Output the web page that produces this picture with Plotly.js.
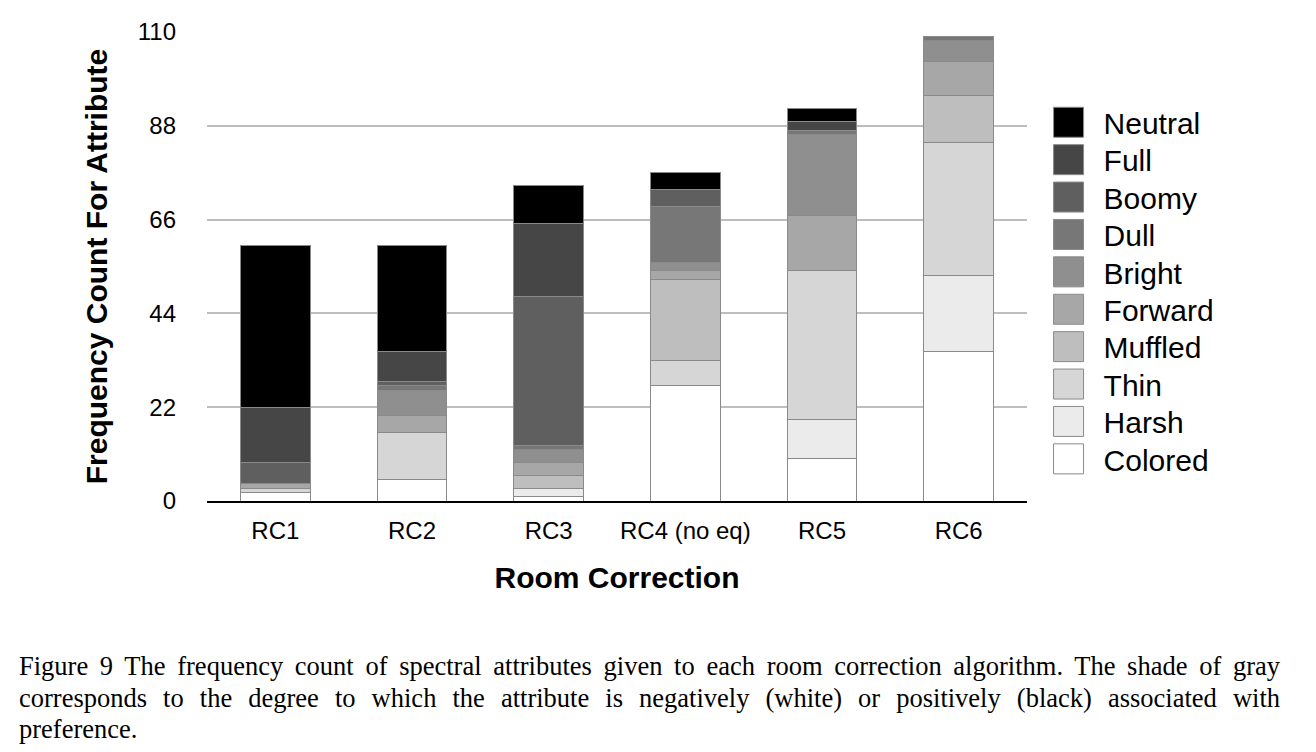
<!DOCTYPE html>
<html>
<head>
<meta charset="utf-8">
<script src="https://cdn.plot.ly/plotly-3.0.1.min.js"></script>
<style>
  html, body { margin: 0; padding: 0; background: #fff; }
  #wrap { position: relative; width: 1316px; height: 752px; overflow: hidden; }
  #chart { position: absolute; left: 0; top: 0; width: 1316px; height: 752px; }
  #caption {
    position: absolute; left: 19px; top: 651px; width: 1261px;
    font-family: "Liberation Serif", "Times New Roman", serif;
    font-size: 26.5px; line-height: 31.5px; color: #000;
  }
  #caption .j { display: block; text-align: justify; text-align-last: justify; white-space: nowrap; }
  #caption .l { display: block; text-align: left; }
</style>
</head>
<body>
<div id="wrap">
  <div id="chart"></div>
  <div id="caption"><span class="j">Figure 9 The frequency count of spectral attributes given to each room correction algorithm. The shade of gray</span><span class="j">corresponds to the degree to which the attribute is negatively (white) or positively (black) associated with</span><span class="l">preference.</span></div>
</div>
<script>
// ---- data ----
var categories = ['RC1', 'RC2', 'RC3', 'RC4 (no eq)', 'RC5', 'RC6'];
var colored = [2, 5, 1, 27, 10, 35];
var harsh   = [0, 0, 2, 0, 9, 18];
var thin    = [1, 11, 0, 6, 35, 31];
var muffled = [0, 0, 3, 19, 0, 11];
var forward = [1, 4, 3, 2, 13, 8];
var bright  = [0, 6, 3, 2, 19, 5];
var dull    = [0, 1, 1, 13, 1, 1];
var boomy   = [5, 1, 35, 4, 0, 0];
var full    = [13, 7, 17, 0, 2, 0];
var neutral = [38, 25, 9, 4, 3, 0];
var yTicks = [0, 22, 44, 66, 88, 110];

// ---- series (bottom to top) ----
var seriesNames = ['Colored', 'Harsh', 'Thin', 'Muffled', 'Forward', 'Bright', 'Dull', 'Boomy', 'Full', 'Neutral'];
var seriesValues = [colored, harsh, thin, muffled, forward, bright, dull, boomy, full, neutral];
var seriesColors = ['#ffffff', '#ebebeb', '#d6d6d6', '#bebebe', '#a7a7a7', '#8f8f8f', '#777777', '#5f5f5f', '#464646', '#000000'];

var traces = seriesNames.map(function (name, i) {
  return {
    type: 'bar',
    name: name,
    x: categories,
    y: seriesValues[i],
    marker: { color: seriesColors[i], line: { color: '#8a8a8a', width: 1 } },
    hoverinfo: 'x+y+name'
  };
});

var FONT = '"Liberation Sans", Arial, Helvetica, sans-serif';

var layout = {
  width: 1316,
  height: 752,
  margin: { l: 207, r: 289, t: 32, b: 251 },
  paper_bgcolor: '#ffffff',
  plot_bgcolor: '#ffffff',
  barmode: 'stack',
  bargap: 0.49,
  font: { family: FONT, color: '#000' },
  showlegend: true,
  legend: {
    traceorder: 'reversed',
    x: 1.008, xanchor: 'left',
    y: 0.863, yanchor: 'top',
    font: { family: FONT, size: 30, color: '#000' },
    itemwidth: 60,
    bgcolor: 'rgba(0,0,0,0)'
  },
  xaxis: {
    type: 'category',
    showline: true, linecolor: '#000', linewidth: 2,
    showgrid: false, ticks: '',
    tickfont: { family: FONT, size: 24, color: '#000' },
    ticklabelstandoff: 7,
    title: { text: 'Room Correction', font: { family: FONT, size: 30, weight: 'bold', color: '#000' }, standoff: 24 },
    automargin: false
  },
  yaxis: {
    range: [0, 110],
    tickvals: yTicks,
    ticktext: yTicks.map(String),
    showgrid: true, gridcolor: '#bdbdbd', gridwidth: 2,
    zeroline: false, showline: false, ticks: '',
    tickfont: { family: FONT, size: 24, color: '#000' },
    ticklabelstandoff: 30,
    title: { text: 'Frequency Count For Attribute', font: { family: FONT, size: 30, weight: 'bold', color: '#000' }, standoff: 21 },
    automargin: false
  }
};

Plotly.newPlot('chart', traces, layout, { displayModeBar: false, staticPlot: true }).then(function () {
  // enlarge legend swatches to match the reference's square patches
  document.querySelectorAll('#chart .legend .legendpoints path').forEach(function (p) {
    p.setAttribute('d', 'M15,15H-15V-15H15Z');
  });
  // tighten legend row spacing to the reference's pitch
  var items = document.querySelectorAll('#chart .legend .traces');
  if (items.length) {
    var m = /translate\(\s*([-\d.]+)[ ,]+([-\d.]+)\s*\)/.exec(items[0].getAttribute('transform') || '');
    var x0 = m ? parseFloat(m[1]) : 0, y0 = m ? parseFloat(m[2]) : 0;
    items.forEach(function (g, i) {
      g.setAttribute('transform', 'translate(' + x0 + ',' + (y0 + i * 37.4) + ')');
    });
  }
});
</script>
</body>
</html>
